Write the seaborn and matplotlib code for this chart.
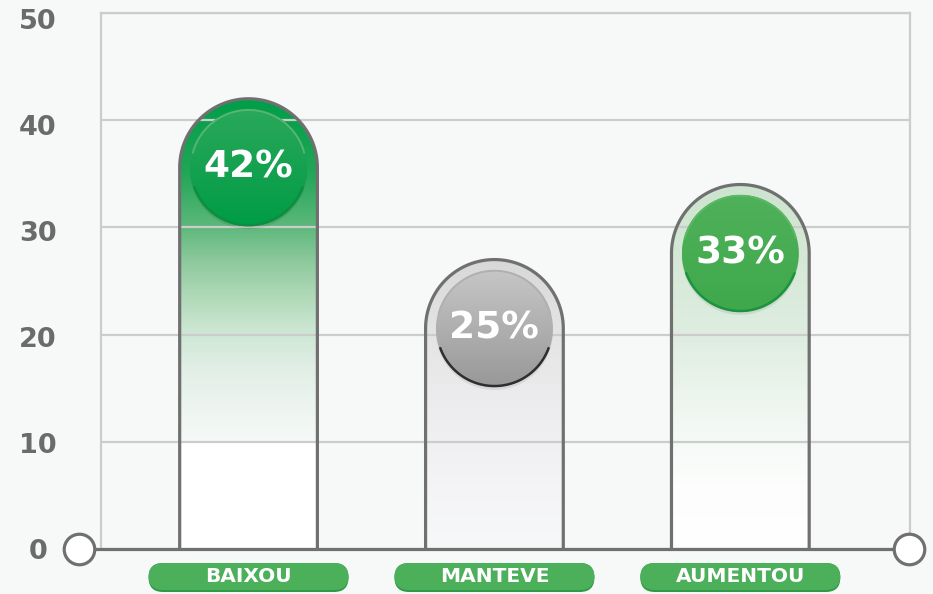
import numpy as np
import matplotlib
matplotlib.use("Agg")
import matplotlib.pyplot as plt
import seaborn as sns
from matplotlib.path import Path
from matplotlib.patches import PathPatch, Ellipse, FancyBboxPatch
from matplotlib.colors import to_rgba
from matplotlib.transforms import blended_transform_factory

# dados
categories = ["BAIXOU", "MANTEVE", "AUMENTOU"]
bar_tops = [42, 27, 34]
pct_labels = ["42%", "25%", "33%"]
y_ticks = [0, 10, 20, 30, 40, 50]

# gradientes (valor, cor) de cada barra
bar_grads = [
    [(0, "#ffffff"), (9.9, "#ffffff"), (10.0, "#f6f9f7"), (13, "#eef5f1"), (17, "#e0eee5"),
     (20.5, "#cbe6d2"), (24, "#abd7b4"), (27, "#8bc89b"), (30, "#5eb87b"), (35, "#22a658"), (42, "#009e48")],
    [(0, "#f7f8fa"), (6, "#f4f4f6"), (14, "#ececee"), (20, "#e4e4e4"), (27, "#d8d8d8")],
    [(0, "#ffffff"), (6, "#fcfdfc"), (10, "#f6faf7"), (14, "#edf5ef"), (20, "#deede0"), (34, "#cde4cf")],
]
circle_grads = [("#2aa85a", "#009c46"), ("#c6c6c6", "#989898"), ("#4fb15a", "#3fa84b")]
circle_edges = [("#55b673", "#0b8f3f"), ("#b0b0b0", "#2e2e2e"), ("#5cb865", "#1c9340")]

bg = "#f7f9f9"
outline = "#707070"

sns.set_theme(style="white")
plt.rcParams["font.family"] = ["DejaVu Sans"]

fig = plt.figure(figsize=(9.33, 5.94), dpi=100, facecolor=bg)
ax = fig.add_axes([101 / 933, 45 / 594, 809 / 933, 536 / 594], facecolor=bg)

sns.barplot(x=categories, y=bar_tops, width=0.56, color="white", errorbar=None, ax=ax)
ax.set_xlim(-0.6, 2.69)
ax.set_ylim(0, 50)
ax.set_autoscale_on(False)

px_x = ax.transData.transform((1, 0))[0] - ax.transData.transform((0, 0))[0]
px_y = ax.transData.transform((0, 1))[1] - ax.transData.transform((0, 0))[1]
ax_h_px = px_y * 50


def gradient_image(stops, lo, hi, n=400):
    v = np.linspace(lo, hi, n)
    sv = [s[0] for s in stops]
    cols = np.array([to_rgba(s[1]) for s in stops])
    img = np.zeros((n, 1, 4))
    for k in range(4):
        img[:, 0, k] = np.interp(v, sv, cols[:, k])
    return img


def arc_pts(cx, cy, rx, ry, a0, a1):
    t = np.radians(np.linspace(a0, a1, 80))
    return cx + rx * np.cos(t), cy + ry * np.sin(t)


for i, p in enumerate(list(ax.patches)):
    x0, w, h = p.get_x(), p.get_width(), p.get_height()
    p.set_visible(False)
    rx = w / 2
    ry = rx * px_x / px_y
    cx = x0 + rx
    yc = h - ry

    ax_, ay_ = arc_pts(cx, yc, rx, ry, 180, 0)
    pts = [(x0, 0), (x0, yc)] + list(zip(ax_, ay_)) + [(x0 + w, yc), (x0 + w, 0)]
    closed = pts + [(x0, 0)]
    codes = [Path.MOVETO] + [Path.LINETO] * (len(closed) - 2) + [Path.CLOSEPOLY]
    clip = PathPatch(Path(closed, codes), transform=ax.transData, facecolor="none", edgecolor="none")
    ax.add_patch(clip)
    im = ax.imshow(gradient_image(bar_grads[i], 0, h), extent=(x0, x0 + w, 0, h), aspect="auto",
                   origin="lower", zorder=1, interpolation="bilinear")
    im.set_clip_path(clip)
    xs, ys = zip(*pts)
    ax.plot(xs, ys, color=outline, lw=2.3, zorder=3, solid_joinstyle="round")

    # círculo com a percentagem
    r_px = 58.5
    crx, cry = r_px / px_x, r_px / px_y
    shadow = Ellipse((cx, yc - 3 / px_y), 2 * crx, 2 * cry, facecolor="black", alpha=0.08,
                     edgecolor="none", zorder=3.5)
    ax.add_patch(shadow)
    circ = Ellipse((cx, yc), 2 * crx, 2 * cry, facecolor="none", edgecolor="none", zorder=4)
    ax.add_patch(circ)
    top_c, bot_c = circle_grads[i]
    cim = ax.imshow(gradient_image([(0, bot_c), (1, top_c)], 0, 1),
                    extent=(cx - crx, cx + crx, yc - cry, yc + cry),
                    aspect="auto", origin="lower", zorder=4, interpolation="bilinear")
    cim.set_clip_path(circ)
    ex, ey = arc_pts(cx, yc, crx * 0.985, cry * 0.985, 15, 165)
    ax.plot(ex, ey, color=circle_edges[i][0], lw=1.4, zorder=4.5, solid_capstyle="round")
    ex, ey = arc_pts(cx, yc, crx * 0.985, cry * 0.985, 200, 340)
    ax.plot(ex, ey, color=circle_edges[i][1], lw=1.8, zorder=4.5, solid_capstyle="round")
    ax.text(cx, yc, pct_labels[i], ha="center", va="center", color="white", fontsize=27,
            fontweight="bold", zorder=6)

# eixos e grelha
ax.set_yticks(y_ticks)
ax.set_yticklabels([])
ax.set_xticks([])
ax.set_xlabel("")
ax.set_ylabel("")
ax.tick_params(axis="y", length=0)
ax.set_axisbelow("line")
ax.yaxis.grid(True, color="#cccccc", lw=1.6)
ax.xaxis.grid(False)
for side in ["left", "right", "top"]:
    ax.spines[side].set_color("#cccccc")
    ax.spines[side].set_linewidth(1.6)
ax.spines["bottom"].set_visible(False)

# rótulos do eixo y (ligeiramente deslocados como no original)
yt = ax.get_yaxis_transform()
for v in y_ticks:
    ax.text(-0.078, v * 0.989 - 0.28, str(v), transform=yt, ha="center", va="center",
            fontsize=19.5, fontweight="bold", color="#6b6b6b", clip_on=False)

ax.plot([-0.027, 0.999], [0, 0], transform=yt, color=outline, lw=2.3, clip_on=False, zorder=7)
ax.plot([-0.027, 0.999], [0, 0], transform=yt, ls="none", marker="o", ms=22, mfc="white",
        mec=outline, mew=2.3, clip_on=False, zorder=8)

# rótulos das categorias
tb = blended_transform_factory(ax.transData, ax.transAxes)
pill_w = 200 / px_x
pill_h = 29 / ax_h_px
pill_y = -(592 - 549) / ax_h_px
aspect = px_x / ax_h_px
edge = 2 / ax_h_px
for j, cat in enumerate(categories):
    for y0, hh, col in [(pill_y, pill_h, "#2e9a47"), (pill_y + edge, pill_h - edge, "#4caf5a")]:
        pill = FancyBboxPatch((j - pill_w / 2, y0), pill_w, hh,
                              boxstyle=f"round,pad=0,rounding_size={14.5 / px_x}",
                              mutation_aspect=aspect, transform=tb, facecolor=col,
                              edgecolor="none", clip_on=False, zorder=9)
        ax.add_patch(pill)
    ax.text(j, pill_y + pill_h / 2 + 1 / ax_h_px, cat, transform=tb, ha="center", va="center", color="white",
            fontsize=14.5, fontweight="bold", zorder=10, clip_on=False)

ax.set_xlim(-0.6, 2.69)
ax.set_ylim(0, 50)
fig.savefig("out.png", dpi=100, facecolor=bg)
